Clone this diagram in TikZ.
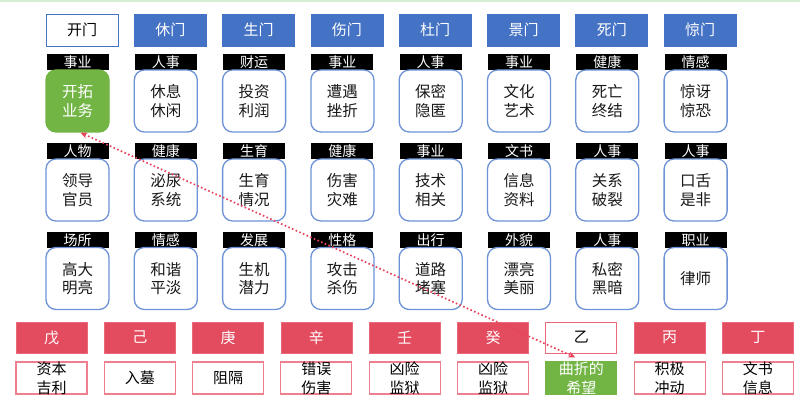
\documentclass[tikz,border=0pt]{standalone}
\usepackage{fontspec}
\setmainfont{Noto Sans CJK SC}
\usetikzlibrary{arrows.meta,calc}
\definecolor{gblue}{HTML}{4472C4}
\definecolor{lblue}{HTML}{6E92D6}
\definecolor{sred}{HTML}{E34B5F}
\definecolor{pred}{HTML}{EE7F8E}
\definecolor{ggreen}{HTML}{72B544}
\definecolor{topgreen}{HTML}{D6EED3}
\definecolor{lred}{HTML}{E8425A}
\tikzset{
 gate/.style={draw=gblue, fill=gblue, text=white, minimum width=72pt, minimum height=32pt, inner sep=0pt, font=\fontsize{15}{16}\selectfont, line width=0.8pt},
 gateopen/.style={gate, fill=white, text=black},
 tag/.style={fill=black, text=white, minimum width=62pt, minimum height=16pt, inner sep=0pt, font=\fontsize{14}{14}\selectfont},
 card/.style={draw=lblue, line width=1.3pt, rounded corners=10pt, fill=white, minimum width=63pt, minimum height=62pt, inner sep=0pt, align=center, text=black!90, font=\fontsize{15.5}{18.5}\selectfont},
 cardgreen/.style={card, fill=ggreen, draw=ggreen, text=white},
 stem/.style={draw=pred!60!sred, fill=sred, text=white, minimum width=71pt, minimum height=31pt, inner sep=0pt, font=\fontsize{15}{16}\selectfont, line width=0.8pt},
 stemopen/.style={stem, fill=white, draw=pred!60!sred, text=black},
 note/.style={draw=pred, line width=1.1pt, fill=white, minimum width=71pt, minimum height=32pt, inner sep=0pt},
 notegreen/.style={note, fill=ggreen, draw=ggreen},
 notetext/.style={inner sep=0pt, align=center, text=black, font=\fontsize{15}{19}\selectfont},
 notetextg/.style={notetext, text=white},
 link/.style={draw=lred, dash pattern=on 1.6pt off 2.4pt, line width=1.7pt, {Stealth[length=7pt,width=6pt]}-{Stealth[length=7pt,width=6pt]}}
}
\begin{document}
\begin{tikzpicture}[x=1pt,y=-1pt]
\useasboundingbox (0,0) rectangle (800,403);
\fill[white] (0,0) rectangle (800,403);
\fill[topgreen] (0,0) rectangle (800,2);
% gates
\node[gateopen] (g1) at ({46+36},30) {开门};
\foreach \t [count=\i from 2] in {休门,生门,伤门,杜门,景门,死门,惊门}
  \node[gate] (g\i) at ({46+88.3*(\i-1)+36},30) {\t};
% row 1
\foreach \t [count=\i] in {事业,人事,财运,事业,人事,事业,健康,情感}
  \node[tag] (ta\i) at ({46+88.3*(\i-1)+31.5},62) {\t};
\node[cardgreen] (ca1) at ({46+31.5},101) {开拓\\业务};
\foreach \t [count=\i from 2] in {休息\\休闲,投资\\利润,遭遇\\挫折,保密\\隐匿,文化\\艺术,死亡\\终结,惊讶\\惊恐}
  \node[card] (ca\i) at ({46+88.3*(\i-1)+31.5},101) {\t};
% row 2
\foreach \t [count=\i] in {人物,健康,生育,健康,事业,文书,人事,人事}
  \node[tag] (tb\i) at ({46+88.3*(\i-1)+31.5},151) {\t};
\foreach \t [count=\i] in {领导\\官员,泌尿\\系统,生育\\情况,伤害\\灾难,技术\\相关,信息\\资料,关系\\破裂,口舌\\是非}
  \node[card] (cb\i) at ({46+88.3*(\i-1)+31.5},190) {\t};
% row 3
\foreach \t [count=\i] in {场所,情感,发展,性格,出行,外貌,人事,职业}
  \node[tag] (tc\i) at ({46+88.3*(\i-1)+31.5},240) {\t};
\foreach \t [count=\i] in {高大\\明亮,和谐\\平淡,生机\\潜力,攻击\\杀伤,道路\\堵塞,漂亮\\美丽,私密\\黑暗,律师}
  \node[card] (cc\i) at ({46+88.3*(\i-1)+31.5},278.5) {\t};
% stems
\foreach \t [count=\i] in {戊,己,庚,辛,壬,癸}
  \node[stem] (s\i) at ({16+88.3*(\i-1)+35.5},337.5) {\t};
\node[stemopen] (s7) at ({16+88.3*6+35.5},337.5) {乙};
\node[stem] (s8) at ({16+88.3*7+35.5},337.5) {丙};
\node[stem] (s9) at ({16+88.3*8+35.5},337.5) {丁};
% notes
\foreach \t [count=\i] in {资本\\吉利,入墓,阻隔,错误\\伤害,凶险\\监狱,凶险\\监狱}
  {\node[note] (n\i) at ({16+88.3*(\i-1)+35.5},378) {};
   \node[notetext] (nt\i) at (n\i) {\t};}
\node[notegreen] (n7) at ({16+88.3*6+35.5},378) {};
\node[notetextg] (nt7) at (n7) {曲折的\\希望};
\node[note] (n8) at ({16+88.3*7+35.5},378) {};
\node[notetext] (nt8) at (n8) {积极\\冲动};
\node[note] (n9) at ({16+88.3*8+35.5},378) {};
\node[notetext] (nt9) at (n9) {文书\\信息};
% link
\coordinate (la) at ($(ca1.south)+(3,0)$);
\coordinate (lb) at ($(n7.north)+(-6,-4)$);
\draw[link] (la) -- (lb);
\end{tikzpicture}
\end{document}
